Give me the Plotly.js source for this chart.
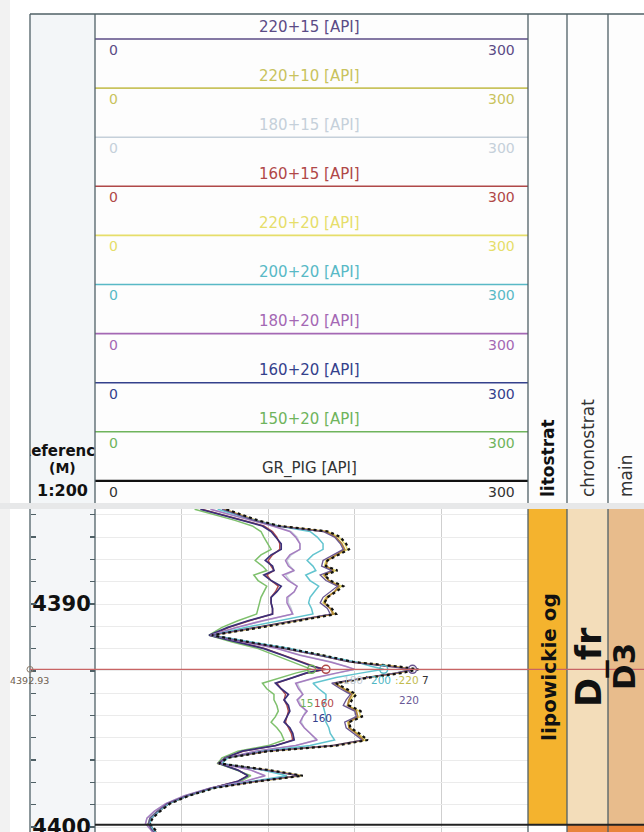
<!DOCTYPE html>
<html><head><meta charset="utf-8">
<script src="https://cdn.plot.ly/plotly-3.0.1.min.js"></script>
<style>html,body{margin:0;padding:0;background:#fff}#chart{width:644px;height:832px}</style>
</head><body><div id="chart"></div>
<script>
// ---------------- DATA ----------------
const depth = [4385.75,4386.0,4386.25,4386.5,4386.75,4387.0,4387.3,4387.55,4387.8,4388.05,4388.3,4388.5,4388.7,4388.95,4389.2,4389.45,4389.7,4389.95,4390.2,4390.45,4390.75,4391.05,4391.4,4391.7,4392.0,4392.3,4392.6,4392.8,4392.93,4393.1,4393.3,4393.55,4393.8,4394.05,4394.3,4394.55,4394.8,4395.05,4395.3,4395.55,4395.8,4396.1,4396.35,4396.6,4396.9,4397.15,4397.45,4397.7,4397.95,4398.25,4398.6,4398.95,4399.3,4399.6,4399.85,4400.1,4400.3];
const gr_pig  = [91,102,113,128,162,170,174,176,169,161,160,168,159,163,172,167,161,159,164,167,141,115,81,106,134,158,179,210,224,212,190,167,174,181,178,176,184,185,176,177,183,189,167,120,92,86,121,144,113,83,65,52,45,40,38,41,44];
const c150_20 = [69,83,97,109,115,117,120,122,115,111,116,119,110,113,119,117,115,114,113,112,99,88,79,95,113,125,137,145,150,139,129,116,119,124,124,126,127,125,122,126,129,131,120,99,88,85,98,108,101,81,63,51,43,38,37,40,42];
const c160_20 = [73,88,102,116,122,125,129,129,122,118,123,124,117,122,129,126,122,122,123,123,106,92,79,98,117,130,142,151,158,146,137,125,129,134,131,134,135,133,131,135,137,138,125,102,90,86,99,106,99,81,64,51,44,39,38,40,43];
const c180_20 = [80,94,108,123,135,139,142,142,135,132,134,138,130,134,140,138,133,133,135,137,116,98,80,102,126,142,163,174,180,167,153,139,141,144,140,142,147,144,142,145,149,154,139,111,91,87,108,118,104,80,62,49,41,36,35,38,41];
const c200_20 = [85,98,111,127,149,154,158,158,151,147,151,153,146,149,155,152,149,148,150,151,127,104,81,108,135,156,181,192,200,184,167,151,155,160,160,158,159,160,160,162,163,166,149,116,92,88,116,133,109,82,64,51,44,39,38,40,43];
const c220_20 = [90,101,112,127,161,169,173,175,168,160,159,167,158,162,171,166,160,158,163,166,140,114,80,105,133,157,178,208,220,210,189,166,173,180,177,175,183,184,175,176,182,188,166,119,91,85,120,143,112,82,64,51,44,39,37,40,43];
const c220_10 = [89,100,111,126,160,167,171,173,167,161,160,165,159,162,169,166,161,159,163,165,139,113,80,104,132,156,177,206,220,209,188,166,172,178,176,175,181,182,176,176,181,186,165,119,91,85,119,142,112,82,64,51,44,39,37,40,43];
const c220_15 = [88,99,110,125,158,166,170,172,165,158,157,164,156,160,168,163,158,156,161,163,138,112,80,104,131,155,176,205,220,208,187,164,170,177,174,172,180,181,173,174,179,185,164,118,90,85,118,141,111,81,63,50,43,38,37,39,42];
const c160_15 = [74,89,103,117,123,126,128,128,123,120,122,124,119,122,127,125,122,122,123,123,107,93,80,99,118,131,143,152,160,147,137,126,129,132,131,133,134,133,132,134,136,137,125,103,90,86,99,106,99,81,64,51,44,39,38,40,43];
const c180_15 = [80,94,108,124,136,140,142,142,136,133,135,138,132,135,140,138,134,134,136,137,117,98,80,103,127,143,164,174,180,168,154,140,142,144,141,143,146,144,143,145,149,153,139,111,91,87,108,117,104,80,62,49,41,36,35,38,41];

// header order, top to bottom
const headerNames  = ['220+15 [API]','220+10 [API]','180+15 [API]','160+15 [API]','220+20 [API]','200+20 [API]','180+20 [API]','160+20 [API]','150+20 [API]','GR_PIG [API]'];
const headerColors = ['#5b4b86','#c9c35e','#c5d0da','#b04848','#e6de6a','#58b9c6','#a468b4','#34418c','#6fb45c','#333333'];
const scaleMin = 0, scaleMax = 300;

const cursorDepth = 4392.93;
const cursorLabels = [
  {t:'180', c:'#c3ccd6', x:353, y:680},
  {t:'\u00b7', c:'#222222', x:366, y:676},
  {t:'200', c:'#4fb6c4', x:381, y:680},
  {t:':220', c:'#c2bb4e', x:407, y:680},
  {t:'7', c:'#333333', x:425, y:680},
  {t:'220', c:'#6a5896', x:409, y:700},
  {t:'15', c:'#6fb45c', x:306, y:703},
  {t:'160', c:'#b04848', x:324, y:703},
  {t:'160', c:'#34418c', x:322, y:718}
];

const lithoTop = [4383.0, 4399.9], lithoBase = [4399.9, 4402.0];
const lithoName = ['lipowickie og', ''], lithoColor = ['#F4B32E', '#FFFFFF'];
const chronoTop = [4383.0, 4399.9], chronoBase = [4399.9, 4402.0];
const chronoName = ['D_fr', ''], chronoColor = ['#F3DDBA', '#E8843A'];
const mainTop = [4383.0, 4399.9], mainBase = [4399.9, 4402.0];
const mainName = ['D3', ''], mainColor = ['#E8BC8C', '#E8843A'];

// ---------------- LAYOUT HELPERS ----------------
const W = 644, H = 832;
const px = x => x / W;
const py = y => 1 - y / H;
const pxPerM = 22.3;
const yTop = 4390 - (604 - 509) / pxPerM;
const yBot = 4390 + (832 - 604) / pxPerM;
const FONT = 'DejaVu Sans';
const border = '#4f6066';

const traces = [];
function curve(vals, color, width, dash) {
  traces.push({type:'scatter', mode:'lines', x: vals, y: depth, xaxis:'x', yaxis:'y',
    line:{color: color, width: width, dash: dash || 'solid'}, hoverinfo:'skip', showlegend:false});
}
curve(c180_15, '#c5d0da', 1.4);
curve(c160_15, '#b04848', 1.4);
curve(c220_20, '#e2d462', 1.4);
curve(c220_10, '#b08538', 1.8);
curve(c150_20, '#7ec06c', 1.5);
curve(c160_20, '#3b2f78', 1.7);
curve(c180_20, '#a67cc0', 1.5);
curve(c200_20, '#62c4cf', 1.5);
curve(c220_15, '#6a5590', 1.3);
curve(gr_pig, '#111111', 2.2, 'dot');

const ci = depth.indexOf(cursorDepth);
traces.push({type:'scatter', mode:'markers', xaxis:'x', yaxis:'y',
  x:[c150_20[ci], c160_15[ci], c200_20[ci], c220_15[ci]],
  y:[depth[ci], depth[ci], depth[ci], depth[ci]],
  marker:{symbol:'circle-open', size:8, color:['#6fb45c','#b04848','#58b9c6','#6a5590'], line:{width:1.5}},
  hoverinfo:'skip', showlegend:false});

// invisible anchors so the depth-scale axes are drawn
['y2','y3'].forEach(ya=>traces.push({type:'scatter', mode:'markers', xaxis:'x', yaxis:ya, x:[scaleMin], y:[depth[0]],
  marker:{opacity:0, size:1}, hoverinfo:'skip', showlegend:false}));

function stratBars(tops, bases, colors, xa) {
  traces.push({type:'bar', xaxis: xa, yaxis:'y', x: tops.map(()=>0.5), base: tops,
    y: tops.map((t,i)=>bases[i]-t), width: tops.map(()=>1),
    marker:{color: colors, line:{width:0}}, hoverinfo:'skip', showlegend:false});
}
stratBars(lithoTop, lithoBase, lithoColor, 'x2');
stratBars(chronoTop, chronoBase, chronoColor, 'x3');
stratBars(mainTop, mainBase, mainColor, 'x4');

// header text in depth column (clipped by cover rectangles)
traces.push({type:'scatter', mode:'text', xaxis:'x5', yaxis:'y5', x:[0.5], y:[0.5], text:['Reference'],
  textfont:{family:FONT, size:15, color:'#111', weight:'bold'}, cliponaxis:true, hoverinfo:'skip', showlegend:false});

const shapes = [];
const annotations = [];
function rect(x0,y0,x1,y1,fill,layer){shapes.push({type:'rect',xref:'paper',yref:'paper',x0:px(x0),x1:px(x1),y0:py(y0),y1:py(y1),fillcolor:fill,line:{width:0},layer:layer||'below'});}
function line(x0,y0,x1,y1,color,w,layer){shapes.push({type:'line',xref:'paper',yref:'paper',x0:px(x0),x1:px(x1),y0:py(y0),y1:py(y1),line:{color:color,width:w},layer:layer||'above'});}
function text(t,x,y,size,color,opts){annotations.push(Object.assign({text:t,xref:'paper',yref:'paper',x:px(x),y:py(y),showarrow:false,
  font:{family:FONT,size:size,color:color},xanchor:'center',yanchor:'middle'},opts||{}));}

rect(0,0,10,832,'#f2f2f2');
rect(30,14,95,503,'#f3f6f8');
rect(30,509,95,832,'#f4f6f8');
rect(95,14,644,503,'#fdfdfd');
rect(0,503,644,509,'#e7e8e9');
// covers clipping the depth-column header text to its column
rect(10,440,30,468,'#ffffff','above');
rect(95,440,130,468,'#fdfdfd','above');

// header rows
headerNames.forEach((n,i)=>{
  const ty = 27 + i*49.0, ly = 39 + i*49.1, sy = 50 + i*49.1;
  const col = headerColors[i];
  text(n, 309, ty, 15, col);
  line(95, ly, 528, ly, i===9 ? '#111111' : col, i===9 ? 2.2 : 1.6);
  text(String(scaleMin), 107, sy, 14, col, {xanchor:'left'});
  text(String(scaleMax), 517, sy, 14, col, {xanchor:'right'});
});

// borders
line(30,14,644,14,border,1.3);
[30,95,528,567,608].forEach(x=>line(x,14,x,503,border,1.3));
[30,95,528,567,608].forEach(x=>line(x,509,x,832,border,1.3));

// column headers
text('litostrat', 548, 499, 17, '#111', {textangle:-90, yanchor:'bottom', font:{family:FONT,size:17,color:'#111',weight:'bold'}});
text('chronostrat', 588, 499, 17, '#333', {textangle:-90, yanchor:'bottom'});
text('main', 626, 499, 17, '#333', {textangle:-90, yanchor:'bottom'});
text('(M)', 62, 468, 14, '#111', {font:{family:FONT,size:14,color:'#111',weight:'bold'}});
text('1:200', 62, 490, 16, '#111', {font:{family:FONT,size:16,color:'#111',weight:'bold'}});

// strat labels at the centre of the visible part of each interval
function stratLabels(tops, bases, names, xc, size) {
  names.forEach((n,i)=>{
    if(!n) return;
    const a = Math.max(tops[i], yTop), b = Math.min(bases[i], yBot);
    annotations.push({text:n, xref:'paper', yref:'y', x:px(xc), y:(a+b)/2, showarrow:false, textangle:-90,
      font:{family:FONT, size:size, color:'#111', weight:'bold'}, xanchor:'center', yanchor:'middle'});
  });
}
stratLabels(lithoTop, lithoBase, lithoName, 549, 20);
stratLabels(chronoTop, chronoBase, chronoName, 589, 35);
stratLabels(mainTop, mainBase, mainName, 624, 31);

// formation boundary
shapes.push({type:'line', xref:'paper', yref:'y', x0:px(95), x1:1, y0:lithoBase[0], y1:lithoBase[0], line:{color:'#222', width:2.2}, layer:'above'});
// cursor line
shapes.push({type:'line', xref:'paper', yref:'y', x0:px(30), x1:1, y0:cursorDepth, y1:cursorDepth, line:{color:'#c86464', width:1.2}, layer:'above'});
shapes.push({type:'circle', xref:'paper', yref:'y', x0:px(27), x1:px(33), y0:cursorDepth-0.13, y1:cursorDepth+0.13, line:{color:'#8a7a6a', width:1}, fillcolor:'rgba(0,0,0,0)', layer:'above'});
text(cursorDepth.toFixed(2), 29, 680, 9.5, '#6f6050');
cursorLabels.forEach(l=>text(l.t, l.x, l.y, 10.5, l.c));

// depth ticks
const tickVals = [], tickText = [];
for (let d = Math.ceil(yTop); d <= Math.floor(yBot); d++) { tickVals.push(d); tickText.push(d % 10 === 0 ? String(d) : ''); }

const layout = {
  width: W, height: H, margin:{l:0,r:0,t:0,b:0,pad:0},
  paper_bgcolor:'#ffffff', plot_bgcolor:'rgba(0,0,0,0)', showlegend:false, barmode:'overlay',
  xaxis:{domain:[px(95),px(528)], range:[scaleMin,scaleMax], anchor:'y', showgrid:true, gridcolor:'#cfcfcf', gridwidth:1,
    tick0:0, dtick:60, showticklabels:false, ticks:'', zeroline:false, showline:false, fixedrange:true},
  yaxis:{domain:[0,py(509)], range:[yBot,yTop], anchor:'x', showgrid:true, gridcolor:'#ebebeb', dtick:1, tick0:4386,
    showticklabels:false, ticks:'', zeroline:false, showline:false, fixedrange:true},
  yaxis2:{overlaying:'y', anchor:'free', position:px(95), side:'left', range:[yBot,yTop], tickmode:'array',
    tickvals:tickVals, ticktext:tickText, ticks:'outside', ticklen:5, tickwidth:1.3, tickcolor:border,
    ticklabeloverflow:'allow', ticklabelstandoff:-5,
    tickfont:{family:FONT, size:21, color:'#111', weight:'bold'}, showgrid:false, zeroline:false, showline:false, fixedrange:true},
  yaxis3:{overlaying:'y', anchor:'free', position:px(30), side:'right', range:[yBot,yTop], tickmode:'array',
    tickvals:tickVals, showticklabels:false, ticks:'outside', ticklen:5, tickwidth:1.3, tickcolor:border,
    showgrid:false, zeroline:false, showline:false, fixedrange:true},
  xaxis2:{domain:[px(528),px(567)], range:[0,1], anchor:'y', visible:false, fixedrange:true},
  xaxis3:{domain:[px(567),px(608)], range:[0,1], anchor:'y', visible:false, fixedrange:true},
  xaxis4:{domain:[px(608),1], range:[0,1], anchor:'y', visible:false, fixedrange:true},
  xaxis5:{domain:[px(30),px(95)], range:[0,1], anchor:'y5', visible:false, fixedrange:true},
  yaxis5:{domain:[py(462),py(442)], range:[0,1], anchor:'x5', visible:false, fixedrange:true},
  shapes: shapes, annotations: annotations
};

Plotly.newPlot('chart', traces, layout, {staticPlot:true, displayModeBar:false});
</script></body></html>
